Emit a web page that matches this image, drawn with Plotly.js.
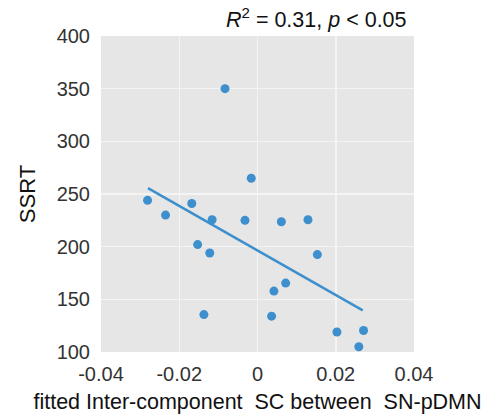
<!DOCTYPE html>
<html>
<head>
<meta charset="utf-8">
<script src="https://cdn.plot.ly/plotly-3.0.1.min.js"></script>
<style>html,body{margin:0;padding:0;background:#fff;}#chart{width:488px;height:419px;}</style>
</head>
<body>
<div id="chart"></div>
<script>
// Data
const scX = [-0.0281, -0.0235, -0.0168, -0.0153, -0.0137, -0.0122, -0.0116, -0.0083, -0.0032, -0.0016,
             0.0036, 0.0042, 0.0061, 0.0072, 0.0129, 0.0153, 0.0203, 0.0259, 0.0271];
const ssrt = [244, 230, 241, 202, 135.5, 194, 225.6, 350, 225, 265,
              134, 157.8, 223.7, 165.4, 225.6, 192.5, 119, 105, 120.4];
const fitX = [-0.028, 0.0269];
const fitY = [255.5, 139.6];
const xTicks = [-0.04, -0.02, 0, 0.02, 0.04];
const xTickText = ['-0.04', '-0.02', '0', '0.02', '0.04'];
const yTicks = [100, 150, 200, 250, 300, 350, 400];
const statText = '<i>R</i><sup>2</sup> = 0.31, <i>p</i> < 0.05';
const xTitle = 'fitted Inter-component\u00a0 SC between\u00a0 SN-pDMN';
const yTitle = 'SSRT';

const blue = '#3d8fcd';
const traces = [
  {x: scX, y: ssrt, type: 'scatter', mode: 'markers',
   marker: {color: blue, size: 9}, hoverinfo: 'none'},
  {x: fitX, y: fitY, type: 'scatter', mode: 'lines',
   line: {color: blue, width: 2.5}, hoverinfo: 'none'}
];
const layout = {
  width: 488, height: 419,
  margin: {l: 101, r: 74, t: 36, b: 67},
  paper_bgcolor: '#ffffff', plot_bgcolor: '#e6e6e6',
  showlegend: false,
  font: {family: 'Liberation Sans, Arial, sans-serif', color: '#333333'},
  xaxis: {range: [-0.04, 0.04], tickvals: xTicks, ticktext: xTickText,
          showgrid: true, gridcolor: '#f4f4f4', gridwidth: 1.5, zeroline: false,
          showline: false, ticks: '', ticklabelstandoff: 8,
          tickfont: {size: 20, color: '#333333'},
          title: {text: xTitle, font: {size: 21.5, color: '#111111'}, standoff: 9}},
  yaxis: {range: [100, 400], tickvals: yTicks,
          showgrid: true, gridcolor: '#f4f4f4', gridwidth: 1.5, zeroline: false,
          showline: false, ticks: '', ticklabelstandoff: 10,
          tickfont: {size: 20, color: '#333333'},
          title: {text: yTitle, font: {size: 22, color: '#111111'}, standoff: 14}},
  annotations: [{text: statText, xref: 'paper', yref: 'paper', x: 1, y: 1,
                 xanchor: 'right', yanchor: 'bottom', yshift: 2, xshift: -5, showarrow: false,
                 font: {size: 21.5, color: '#111111'}}]
};
Plotly.newPlot('chart', traces, layout, {displayModeBar: false, staticPlot: true});
</script>
</body>
</html>
